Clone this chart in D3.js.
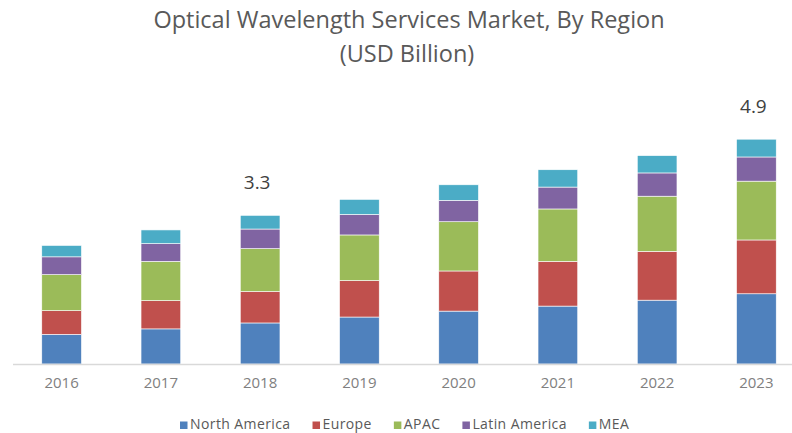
<!DOCTYPE html>
<html>
<head>
<meta charset="utf-8">
<script src="https://cdn.jsdelivr.net/npm/d3@7"></script>
<style>
  body { margin: 0; background: #fff; }
  svg { display: block; font-family: "Open Sans", "Noto Sans", sans-serif; }
</style>
</head>
<body>
<div id="chart-area"></div>
<script>
// data (USD billion)
var years = ["2016", "2017", "2018", "2019", "2020", "2021", "2022", "2023"];
var regions = ["North America", "Europe", "APAC", "Latin America", "MEA"];
var northAmerica = [0.65, 0.77, 0.90, 1.03, 1.16, 1.27, 1.40, 1.54];
var europe       = [0.52, 0.62, 0.69, 0.80, 0.88, 0.98, 1.07, 1.18];
var apac         = [0.79, 0.86, 0.94, 1.00, 1.08, 1.15, 1.21, 1.29];
var latinAmerica = [0.39, 0.39, 0.43, 0.45, 0.47, 0.48, 0.51, 0.53];
var mea          = [0.25, 0.30, 0.30, 0.33, 0.34, 0.38, 0.38, 0.39];
var labelYears = ["2018", "2023"];
var labelTexts = ["3.3", "4.9"];

var colors = ["#4f81bd", "#c0504d", "#9bbb59", "#8064a2", "#4bacc6"];

var width = 792, height = 433;

var svg = d3.select("#chart-area")
  .append("svg")
  .attr("width", width)
  .attr("height", height);

// title
svg.append("text")
  .attr("x", 409).attr("y", 28)
  .attr("text-anchor", "middle")
  .attr("font-size", 23.5)
  .attr("fill", "#595959")
  .text("Optical Wavelength Services Market, By Region");
svg.append("text")
  .attr("x", 407).attr("y", 62)
  .attr("text-anchor", "middle")
  .attr("font-size", 23.5)
  .attr("fill", "#595959")
  .text("(USD Billion)");

// build table for the stack
var table = years.map(function(y, i) {
  return {
    year: y,
    "North America": northAmerica[i],
    "Europe": europe[i],
    "APAC": apac[i],
    "Latin America": latinAmerica[i],
    "MEA": mea[i]
  };
});

var stack = d3.stack().keys(regions)(table);

var x = d3.scaleBand()
  .domain(years)
  .range([12, 806])
  .paddingInner(0.6)
  .paddingOuter(0.3);

var y = d3.scaleLinear()
  .domain([0, 5])
  .range([364, 136]);

var color = d3.scaleOrdinal().domain(regions).range(colors);

var layers = svg.append("g").selectAll("g")
  .data(stack)
  .enter()
  .append("g")
  .attr("fill", function(d) { return color(d.key); });

layers.selectAll("rect")
  .data(function(d) { return d; })
  .enter()
  .append("rect")
  .attr("x", function(d) { return x(d.data.year); })
  .attr("width", x.bandwidth())
  .attr("y", function(d) { return y(d[1]); })
  .attr("height", function(d) { return y(d[0]) - y(d[1]); })
  .attr("stroke", "#fff")
  .attr("stroke-width", 0.6);

// x axis
var xAxis = d3.axisBottom(x).tickSize(0).tickPadding(13);
var xAxisGroup = svg.append("g")
  .attr("transform", "translate(0," + y(0) + ")")
  .call(xAxis);
xAxisGroup.select(".domain")
  .attr("d", "M13,0.5H792")
  .attr("stroke", "#d9d9d9")
  .attr("stroke-width", 1.5);
xAxisGroup.selectAll("text")
  .attr("font-family", "\"Open Sans\", sans-serif")
  .attr("font-size", 15)
  .attr("fill", "#808080");

// total labels
var totals = years.map(function(yr, i) {
  return northAmerica[i] + europe[i] + apac[i] + latinAmerica[i] + mea[i];
});
svg.append("g").selectAll("text")
  .data(labelYears)
  .enter()
  .append("text")
  .attr("x", function(d) { return x(d) + x.bandwidth() / 2 - 3; })
  .attr("y", function(d) { return y(totals[years.indexOf(d)]) - 26; })
  .attr("text-anchor", "middle")
  .attr("font-size", 19)
  .attr("fill", "#404040")
  .text(function(d, i) { return labelTexts[i]; });

// legend
var legend = svg.append("g").attr("transform", "translate(180,429)");
var lx = 0;
regions.forEach(function(r) {
  var item = legend.append("g").attr("transform", "translate(" + lx + ",0)");
  item.append("rect")
    .attr("x", 0).attr("y", -7.5)
    .attr("width", 7.5).attr("height", 7.5)
    .attr("fill", color(r));
  var t = item.append("text")
    .attr("x", 10).attr("y", 0)
    .attr("font-size", 14)
    .attr("letter-spacing", 0.4)
    .attr("fill", "#595959")
    .text(r);
  lx += 10 + t.node().getComputedTextLength() + 22;
});
</script>
</body>
</html>
